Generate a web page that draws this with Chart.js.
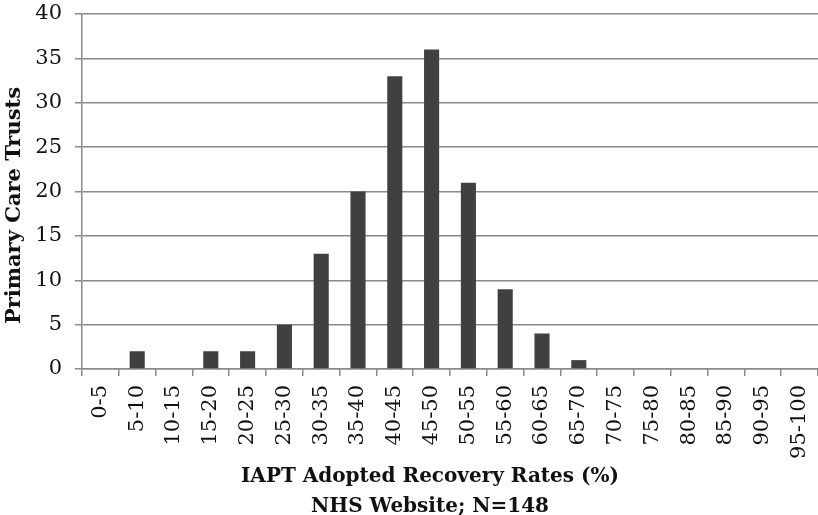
<!DOCTYPE html>
<html>
<head>
<meta charset="utf-8">
<script src="https://cdn.jsdelivr.net/npm/chart.js@4.4.0/dist/chart.umd.min.js"></script>
<style>
html,body{margin:0;padding:0;background:#fff;}
#wrap{width:818px;height:515px;position:relative;}
</style>
</head>
<body>
<div id="wrap"><canvas id="c" width="818" height="515"></canvas></div>
<script>
const categories = ["0-5","5-10","10-15","15-20","20-25","25-30","30-35","35-40","40-45","45-50","50-55","55-60","60-65","65-70","70-75","75-80","80-85","85-90","90-95","95-100"];
const trustCounts = [0,2,0,2,2,5,13,20,33,36,21,9,4,1,0,0,0,0,0,0];
const yTicks = [0,5,10,15,20,25,30,35,40];
const xTitle = ["IAPT Adopted Recovery Rates (%)","NHS Website; N=148"];
const yTitle = "Primary Care Trusts";

const FONT = "'DejaVu Serif', serif";
const GRID = "#8a8a8a";

const axisTitles = {
  id: 'axisTitles',
  afterDraw(chart) {
    const { ctx, chartArea } = chart;
    ctx.save();
    ctx.fillStyle = '#111';
    ctx.font = "bold 20px " + FONT;
    ctx.textAlign = 'center';
    ctx.textBaseline = 'alphabetic';
    const cx = (chartArea.left + chartArea.right) / 2 - 20;
    ctx.fillText(xTitle[0], cx, chartArea.bottom + 113);
    ctx.fillText(xTitle[1], cx, chartArea.bottom + 143);
    ctx.font = "bold 21px " + FONT;
    ctx.translate(15, (chartArea.top + chartArea.bottom) / 2 + 14);
    ctx.rotate(-Math.PI / 2);
    ctx.textBaseline = 'middle';
    ctx.fillText(yTitle, 0, 0);
    ctx.restore();
  }
};

new Chart(document.getElementById('c'), {
  type: 'bar',
  data: {
    labels: categories,
    datasets: [{
      data: trustCounts,
      backgroundColor: '#404040',
      borderWidth: 0,
      categoryPercentage: 1.0,
      barPercentage: 0.41
    }]
  },
  plugins: [axisTitles],
  options: {
    responsive: false,
    animation: false,
    devicePixelRatio: 1,
    layout: { padding: { top: 14, right: 0, left: 0, bottom: 0 } },
    plugins: { legend: { display: false }, tooltip: { enabled: false } },
    scales: {
      x: {
        grid: { display: true, offset: true, drawOnChartArea: false, drawTicks: true, tickLength: 7, color: GRID, lineWidth: 1.5 },
        border: { display: true, color: GRID, width: 1.5 },
        ticks: { color: '#111', font: { family: FONT, size: 21 }, minRotation: 90, maxRotation: 90, padding: 9, autoSkip: false },
        title: { display: false },
        afterFit: (s) => { s.height = 146; s.paddingLeft = 0; s.paddingRight = 0; }
      },
      y: {
        min: 0, max: 40,
        afterBuildTicks: (s) => { s.ticks = yTicks.map(v => ({ value: v })); },
        grid: { display: true, drawOnChartArea: true, drawTicks: true, tickLength: 7, color: GRID, lineWidth: 1.5 },
        border: { display: true, color: GRID, width: 1.5 },
        ticks: { color: '#111', font: { family: FONT, size: 21 }, padding: 13 },
        title: { display: false },
        afterFit: (s) => { s.width = 82; s.paddingTop = 0; s.paddingBottom = 0; }
      }
    }
  }
});
</script>
</body>
</html>
